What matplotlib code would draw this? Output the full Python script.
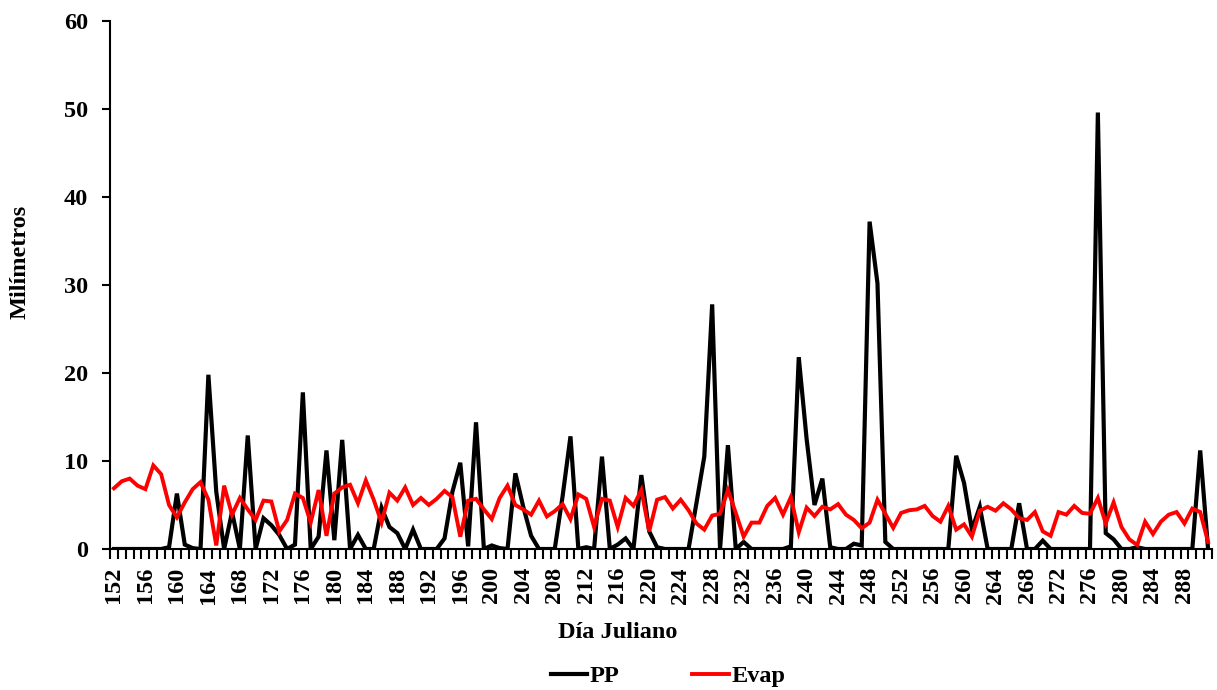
import matplotlib
matplotlib.use("Agg")
import matplotlib.pyplot as plt
import numpy as np

days = list(range(152, 292))

pp = [0, 0, 0, 0, 0, 0, 0, 0.2, 6.3, 0.5,          # 152-161
      0.1, 0, 19.8, 6.5, 0, 4.2, 0, 12.9, 0, 3.5,   # 162-171
      2.7, 1.6, 0, 0.5, 17.8, 0, 1.4, 11.2, 1.0, 12.4,  # 172-181
      0, 1.6, 0, 0, 4.7, 2.5, 1.8, 0, 2.2, 0,       # 182-191
      0, 0, 1.2, 6.5, 9.8, 0.3, 14.4, 0, 0.4, 0.1,  # 192-201
      0, 8.6, 4.8, 1.5, 0, 0, 0, 6.0, 12.8, 0,      # 202-211
      0.2, 0, 10.5, 0, 0.5, 1.2, 0, 8.4, 2.0, 0.2,  # 212-221
      0, 0, 0, 0, 5.2, 10.5, 27.8, 0, 11.8, 0,      # 222-231
      0.8, 0, 0, 0, 0, 0, 0.3, 21.8, 12.5, 5.0,     # 232-241
      8.0, 0.2, 0, 0, 0.6, 0.4, 37.2, 30.2, 0.8, 0, # 242-251
      0, 0, 0, 0, 0, 0, 0, 10.6, 7.5, 2.2,          # 252-261
      4.8, 0, 0, 0, 0, 5.2, 0, 0, 0.95, 0,          # 262-271
      0, 0, 0, 0, 0, 49.6, 1.8, 1.1, 0, 0,          # 272-281
      0.2, 0, 0, 0, 0, 0, 0, 0, 11.2, 0]            # 282-291

evap = [6.9, 7.7, 8.0, 7.2, 6.8, 9.5, 8.5, 5.0, 3.6, 5.3,   # 152-161
        6.8, 7.6, 5.6, 0.4, 7.2, 3.9, 5.8, 4.5, 3.3, 5.5,   # 162-171
        5.4, 2.0, 3.3, 6.3, 5.8, 3.0, 6.7, 1.5, 6.3, 7.0,   # 172-181
        7.3, 5.2, 7.8, 5.6, 3.0, 6.4, 5.5, 7.0, 5.0, 5.8,   # 182-191
        5.0, 5.7, 6.6, 5.9, 1.4, 5.5, 5.7, 4.5, 3.4, 5.8,   # 192-201
        7.2, 5.0, 4.5, 3.9, 5.5, 3.7, 4.3, 5.1, 3.4, 6.2,   # 202-211
        5.7, 2.5, 5.7, 5.5, 2.5, 5.8, 4.9, 6.7, 2.0, 5.6,   # 212-221
        5.9, 4.6, 5.6, 4.4, 2.9, 2.2, 3.8, 4.0, 6.7, 4.1,   # 222-231
        1.4, 3.0, 3.0, 4.9, 5.8, 3.9, 5.9, 1.9, 4.7, 3.75,  # 232-241
        4.8, 4.5, 5.1, 3.9, 3.3, 2.35, 3.0, 5.6, 4.0, 2.4,  # 242-251
        4.1, 4.4, 4.5, 4.9, 3.75, 3.1, 4.9, 2.2, 2.8, 1.4,  # 252-261
        4.35, 4.8, 4.35, 5.2, 4.5, 3.5, 3.3, 4.2, 2.0, 1.5, # 262-271
        4.2, 3.9, 4.9, 4.1, 4.0, 5.8, 2.9, 5.3, 2.5, 1.1,   # 272-281
        0.45, 3.1, 1.7, 3.1, 3.9, 4.2, 2.9, 4.6, 4.2, 0.8]  # 282-291

y_ticks = [0, 10, 20, 30, 40, 50, 60]
x_label_days = list(range(152, 292, 4))

plt.rcParams['font.family'] = ['Liberation Serif', 'DejaVu Serif']
plt.rcParams['font.weight'] = 'bold'

fig = plt.figure(figsize=(12.17, 6.90), dpi=100)
ax = fig.add_axes([110/1217, 141/690, 1102/1217, 528/690])

ax.plot(days, pp, color='black', lw=3.0, label='PP', solid_joinstyle='miter')
ax.plot(days, evap, color='#ff0000', lw=2.8, label='Evap', solid_joinstyle='miter')

ax.set_xlim(days[0] - 0.5, days[-1] + 0.5)
ax.set_ylim(0, 60)

for s in ['top', 'right']:
    ax.spines[s].set_visible(False)
for s in ['left', 'bottom']:
    ax.spines[s].set_linewidth(1.5)

ax.set_yticks(y_ticks)
ax.set_yticklabels([str(v) for v in y_ticks], fontsize=17.5, fontweight='bold')
ax.tick_params(axis='y', direction='out', length=6, width=1.5, pad=10)

ax.set_xticks(x_label_days)
ax.set_xticklabels([str(d) for d in x_label_days], rotation=90, fontsize=17.5,
                   fontweight='bold')
ax.tick_params(axis='x', which='major', length=0, pad=13)
ax.set_xticks(np.arange(days[0] - 0.5, days[-1] + 1.0, 1.0), minor=True)
ax.tick_params(axis='x', which='minor', direction='out', length=7, width=1.5)

fig.text(20/1217, 1 - 262/690, 'Milímetros', rotation=90, ha='center',
         va='center', fontsize=17.5, fontweight='bold')
fig.text(618/1217, 1 - 632/690, 'Día Juliano', ha='center', va='center',
         fontsize=17.5, fontweight='bold')

leg = fig.legend(loc='center', bbox_to_anchor=(668/1217, 1 - 676/690), ncol=2,
                 frameon=False, handlelength=1.5, handletextpad=0.1,
                 columnspacing=3.0, prop={'weight': 'bold', 'size': 17.5})

fig.savefig('out.png', dpi=100)
